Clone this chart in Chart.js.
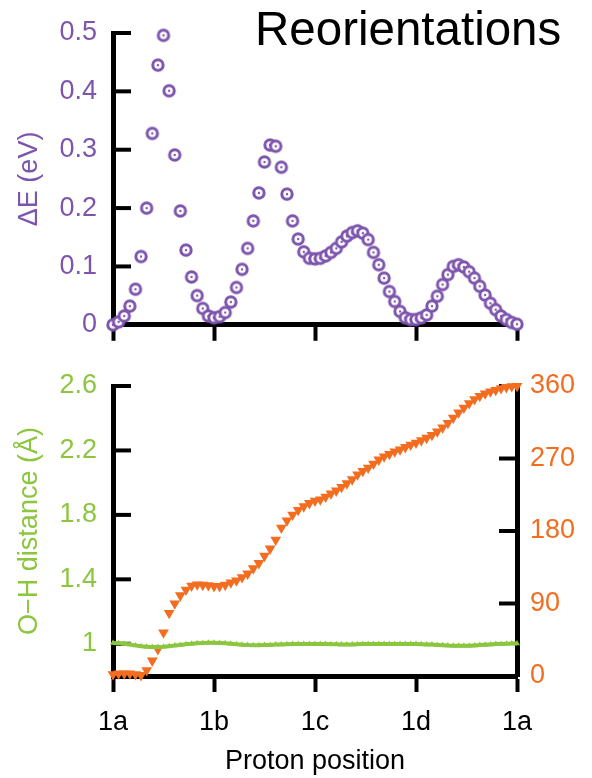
<!DOCTYPE html>
<html>
<head>
<meta charset="utf-8">
<script src="https://cdn.jsdelivr.net/npm/chart.js@4/dist/chart.umd.min.js"></script>
<style>
  body { margin: 0; background: #fff; }
  #wrap { position: relative; width: 592px; height: 778px; overflow: hidden; }
  #topChart { position: absolute; left: 0; top: 0; }
  #bottomChart { position: absolute; left: 0; top: 350px; }
  #title { position: absolute; left: 255px; top: 5px; font: 47.5px 'Liberation Sans', Arial, sans-serif; line-height: 48px; color: #000; }
</style>
</head>
<body>
<div id="wrap">
  <canvas id="topChart" width="592" height="357"></canvas>
  <canvas id="bottomChart" width="592" height="428"></canvas>
  <div id="title">Reorientations</div>
</div>
<script>
// path nodes along the x axis
const positions = ['1a', '1b', '1c', '1d', '1a'];

// energy along the path (eV); each segment ends at the next node
const dEStart = 0.0;
const dE_1a_1b = [0.005, 0.015, 0.032, 0.061, 0.117, 0.2, 0.328, 0.445, 0.496, 0.401, 0.291, 0.195, 0.128, 0.082, 0.05, 0.028, 0.015, 0.012];
const dE_1b_1c = [0.014, 0.021, 0.039, 0.064, 0.095, 0.131, 0.178, 0.226, 0.279, 0.308, 0.306, 0.27, 0.224, 0.178, 0.147, 0.125, 0.114, 0.113];
const dE_1c_1d = [0.114, 0.118, 0.124, 0.131, 0.142, 0.152, 0.158, 0.161, 0.157, 0.146, 0.124, 0.103, 0.08, 0.057, 0.04, 0.023, 0.012, 0.009, 0.009];
const dE_1d_1a = [0.012, 0.017, 0.032, 0.049, 0.069, 0.086, 0.1, 0.103, 0.099, 0.091, 0.08, 0.066, 0.051, 0.037, 0.026, 0.015, 0.009, 0.004, 0.001];

// rotation angle (degrees, right axis)
const angStart = 2;
const ang_1a_1b = [3, 3, 3, 2, 1, 7, 19, 33, 54, 78, 90, 100, 107, 112, 113.5, 113, 112.5, 111.5];
const ang_1b_1c = [111.5, 113, 116, 118.5, 122.5, 127, 133.5, 140, 149, 158, 169, 184, 193, 200, 206, 210.5, 214.5, 217.5];
const ang_1c_1d = [219, 222.5, 226.5, 230, 234.5, 239, 244, 250, 254.5, 258.5, 263.5, 268.5, 272.5, 275.5, 278.5, 281, 284, 287, 289.5];
const ang_1d_1a = [292.5, 295.5, 299, 303.5, 308.5, 314, 320.5, 327, 333, 338.5, 343.5, 347.5, 350.5, 353, 355, 357, 358.5, 359.5, 360];

// O-H distance (angstrom, left axis)
const ohStart = 1.005;
const oh_1a_1b = [1.004, 1.0, 0.995, 0.99, 0.985, 0.981, 0.98, 0.98, 0.982, 0.985, 0.989, 0.993, 0.997, 1.0, 1.003, 1.005, 1.006, 1.006];
const oh_1b_1c = [1.005, 1.003, 1.0, 0.997, 0.994, 0.992, 0.991, 0.991, 0.992, 0.993, 0.995, 0.996, 0.997, 0.998, 0.998, 0.998, 0.998, 0.998];
const oh_1c_1d = [0.998, 0.998, 0.997, 0.997, 0.996, 0.996, 0.996, 0.997, 0.998, 0.999, 0.999, 0.999, 0.999, 0.998, 0.998, 0.998, 0.998, 0.998, 0.998];
const oh_1d_1a = [0.997, 0.996, 0.995, 0.993, 0.991, 0.989, 0.988, 0.987, 0.987, 0.988, 0.99, 0.992, 0.994, 0.996, 0.998, 0.999, 1.0, 1.001, 1.001];

// tick labels
const dETicks = [0, 0.1, 0.2, 0.3, 0.4, 0.5];
const ohTicks = [1, 1.4, 1.8, 2.2, 2.6];
const ohTickLabels = ['1', '1.4', '1.8', '2.2', '2.6'];
const angTicks = [0, 90, 180, 270, 360];

const PURPLE = '#7d55ad';
const GREEN = '#8cc63f';
const ORANGE = '#f36d21';
const FONT = "'Liberation Sans', Arial, sans-serif";

Chart.defaults.font.family = FONT;
Chart.defaults.font.size = 27;

// spread each segment's samples evenly between two nodes
function spread(start, segs) {
    const pts = [{ x: 0, y: start }];
    segs.forEach((seg, k) => {
        seg.forEach((v, j) => pts.push({ x: k + (j + 1) / seg.length, y: v }));
    });
    return pts;
}

// open circle with a dot in the middle
function ringMarker() {
    const c = document.createElement('canvas');
    c.width = 16; c.height = 16;
    const g = c.getContext('2d');
    g.beginPath();
    g.arc(8, 8, 5.2, 0, Math.PI * 2);
    g.fillStyle = '#fff';
    g.fill();
    g.lineWidth = 3;
    g.strokeStyle = PURPLE;
    g.stroke();
    g.beginPath();
    g.arc(8, 8, 1.2, 0, Math.PI * 2);
    g.fillStyle = PURPLE;
    g.fill();
    return c;
}

// y axis ticks pointing into the plot
const innerTicks = {
    id: 'innerTicks',
    beforeDatasetsDraw(chart) {
        const ctx = chart.ctx;
        const area = chart.chartArea;
        ctx.save();
        ctx.strokeStyle = '#000';
        ctx.lineWidth = 4;
        Object.values(chart.scales).forEach(s => {
            if (s.isHorizontal()) return;
            const left = s.position === 'left';
            const x0 = left ? area.left : area.right;
            s.ticks.forEach(t => {
                const y = s.getPixelForValue(t.value);
                ctx.beginPath();
                ctx.moveTo(x0, y);
                ctx.lineTo(x0 + (left ? 18 : -18), y);
                ctx.stroke();
            });
        });
        ctx.restore();
    }
};

function xAxis(showLabels, height) {
    return {
        type: 'linear',
        min: 0,
        max: 4,
        afterBuildTicks: s => { s.ticks = positions.map((p, i) => ({ value: i })); },
        ticks: {
            display: showLabels,
            color: '#000',
            padding: 14,
            maxRotation: 0,
            callback: (v, i) => positions[i]
        },
        grid: { display: true, drawOnChartArea: false, drawTicks: true, tickLength: 16, tickWidth: 4, color: '#000' },
        border: { display: true, width: 5, color: '#000' },
        title: showLabels ? { display: true, text: 'Proton position', color: '#000', padding: { top: 9, bottom: 0 } } : { display: false },
        afterFit: s => { s.height = height; }
    };
}

new Chart(document.getElementById('topChart'), {
    type: 'scatter',
    data: {
        datasets: [{
            data: spread(dEStart, [dE_1a_1b, dE_1b_1c, dE_1c_1d, dE_1d_1a]),
            pointStyle: ringMarker(),
            pointRadius: 8,
            clip: false
        }]
    },
    options: {
        responsive: false,
        animation: false,
        layout: { padding: { top: 33, right: 75, left: 0, bottom: 0 } },
        plugins: { legend: { display: false }, tooltip: { enabled: false } },
        scales: {
            x: xAxis(false, 18),
            y: {
                min: 0,
                max: 0.5,
                afterBuildTicks: s => { s.ticks = dETicks.map(v => ({ value: v })); },
                ticks: { color: PURPLE, padding: 16, callback: (v, i) => String(dETicks[i]) },
                grid: { display: false, drawTicks: false },
                border: { display: true, width: 5, color: '#000' },
                title: { display: true, text: 'ΔE (eV)', color: PURPLE, padding: { top: 13, bottom: 0 } },
                afterFit: s => { s.width = 113; }
            }
        }
    },
    plugins: [innerTicks]
});

new Chart(document.getElementById('bottomChart'), {
    type: 'scatter',
    data: {
        datasets: [{
            data: spread(ohStart, [oh_1a_1b, oh_1b_1c, oh_1c_1d, oh_1d_1a]),
            yAxisID: 'y',
            showLine: true,
            borderColor: GREEN,
            borderWidth: 4,
            pointStyle: 'triangle',
            pointRadius: 3.5,
            pointBorderWidth: 0,
            pointBackgroundColor: GREEN,
            clip: false
        }, {
            data: spread(angStart, [ang_1a_1b, ang_1b_1c, ang_1c_1d, ang_1d_1a]),
            yAxisID: 'y1',
            pointStyle: 'triangle',
            pointRotation: 180,
            pointRadius: 6.2,
            pointBorderWidth: 0,
            pointBackgroundColor: ORANGE,
            clip: false
        }]
    },
    options: {
        responsive: false,
        animation: false,
        layout: { padding: { top: 36, right: 0, left: 0, bottom: 0 } },
        plugins: { legend: { display: false }, tooltip: { enabled: false } },
        scales: {
            x: xAxis(true, 102),
            y: {
                position: 'left',
                min: 0.8,
                max: 2.6,
                afterBuildTicks: s => { s.ticks = ohTicks.map(v => ({ value: v })); },
                ticks: { color: GREEN, padding: 16, callback: (v, i) => ohTickLabels[i] },
                grid: { display: false, drawTicks: false },
                border: { display: true, width: 5, color: '#000' },
                title: { display: true, text: 'O−H distance (Å)', color: GREEN, padding: { top: 13, bottom: 0 } },
                afterFit: s => { s.width = 113; }
            },
            y1: {
                position: 'right',
                min: 0,
                max: 360,
                afterBuildTicks: s => { s.ticks = angTicks.map(v => ({ value: v })); },
                ticks: { color: ORANGE, padding: 13, callback: (v, i) => String(angTicks[i]) },
                grid: { display: false, drawTicks: false },
                border: { display: true, width: 5, color: '#000' },
                afterFit: s => { s.width = 75; }
            }
        }
    },
    plugins: [innerTicks]
});
</script>
</body>
</html>
